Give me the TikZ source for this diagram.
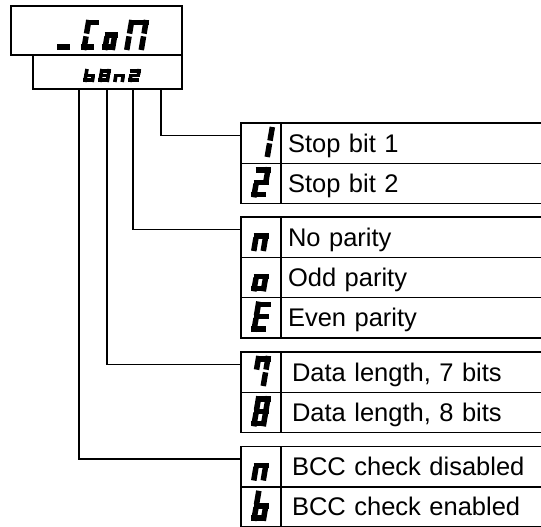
\documentclass[tikz,border=0pt]{standalone}
\usepackage{fontspec}
\setmainfont{Liberation Sans}

% Seven-segment digit: segments a (top), b, c (right), d (bottom), e, f (left), g (middle)
\newcommand\sw{12}\newcommand\sh{30}\newcommand\st{4.5}
\pgfkeys{
  /segs/a/.code={\draw[line width=\st pt] (0,\sh-\st/2) -- (\sw,\sh-\st/2);},
  /segs/d/.code={\draw[line width=\st pt] (0,\st/2) -- (\sw,\st/2);},
  /segs/g/.code={\draw[line width=\st pt] (0,\sh/2) -- (\sw,\sh/2);},
  /segs/f/.code={\draw[line width=\st pt] (\st/2,\sh) -- (\st/2,\sh/2+0.25*\st);},
  /segs/e/.code={\draw[line width=\st pt] (\st/2,\sh/2-0.25*\st) -- (\st/2,0);},
  /segs/b/.code={\draw[line width=\st pt] (\sw-\st/2,\sh) -- (\sw-\st/2,\sh/2+0.25*\st);},
  /segs/c/.code={\draw[line width=\st pt] (\sw-\st/2,\sh/2-0.25*\st) -- (\sw-\st/2,0);},
}
% #1 origin (bottom left), #2 width, #3 height, #4 stroke, #5 segment list
\newcommand\segdigit[5]{%
  \begin{scope}[shift={#1}, xslant=0.17, line cap=butt]
    \renewcommand\sw{#2}\renewcommand\sh{#3}\renewcommand\st{#4}%
    \foreach \s in {#5}{\pgfkeys{/segs/\s}}
  \end{scope}}
% digit placed in an option cell
\newcommand\celldigit[3][0]{\segdigit{([xshift=10pt+#1 pt,yshift=-34pt]#2.north west)}{15}{30}{5.5}{#3}}

\tikzset{
  frame/.style={draw, line width=1.4pt, inner sep=0pt, outer sep=0pt, anchor=north west},
  gcell/.style={frame, minimum width=40pt, minimum height=40.3pt},
  tcell/.style={frame, minimum width=265pt, minimum height=40.3pt,
    font=\fontsize{25.5}{30}\selectfont, text width=#1, align=left,
    text height=18pt, text depth=0pt},
  wire/.style={draw, line width=1.3pt},
}

\begin{document}
\begin{tikzpicture}[x=1pt, y=1pt]
  \useasboundingbox (0,0) rectangle (541,-527);
  \fill[white] (0,0) rectangle (541,-527);
  \clip (0,0) rectangle (541,-527);

  % display and its sub-field
  \node[frame, minimum width=171pt, minimum height=49pt] (disp) at (11,-6) {};
  \node[frame, minimum width=149pt, minimum height=34pt] (sub) at (33,-55) {};

  % "_CoM"
  \segdigit{(57,-50)}{13}{30}{5.5}{d}
  \segdigit{(81,-50)}{13}{30}{5.5}{a,d,e,f}
  \segdigit{(102,-50)}{13}{30}{5.5}{c,d,e,g}
  \segdigit{(124,-50)}{20}{30}{5.5}{a,b,c,e,f}
  % "b8n2"
  \segdigit{(83,-82)}{11}{13}{3.6}{c,d,e,f,g}
  \segdigit{(98,-82)}{11}{13}{3.6}{a,b,c,d,e,f,g}
  \segdigit{(113,-82)}{11}{13}{3.6}{c,e,g}
  \segdigit{(128,-82)}{11}{13}{3.6}{a,b,d,e,g}

  % stop bits
  \node[gcell] (g1a) at (241,-123) {};
  \node[tcell=251pt] (t1a) at (281,-123) {Stop bit 1};
  \node[gcell] (g1b) at (241,-163.3) {};
  \node[tcell=251pt] (t1b) at (281,-163.3) {Stop bit 2};
  \celldigit[4]{g1a}{b,c}
  \celldigit{g1b}{a,b,g,e,d}

  % parity
  \node[gcell] (g2a) at (241,-217) {};
  \node[tcell=251pt] (t2a) at (281,-217) {No parity};
  \node[gcell] (g2b) at (241,-257.3) {};
  \node[tcell=251pt] (t2b) at (281,-257.3) {Odd parity};
  \node[gcell] (g2c) at (241,-297.6) {};
  \node[tcell=251pt] (t2c) at (281,-297.6) {Even parity};
  \celldigit{g2a}{c,e,g}
  \celldigit{g2b}{c,d,e,g}
  \celldigit{g2c}{a,f,g,e,d}

  % data length
  \node[gcell] (g3a) at (241,-352) {};
  \node[tcell=243pt] (t3a) at (281,-352) {Data length, 7 bits};
  \node[gcell] (g3b) at (241,-392.3) {};
  \node[tcell=243pt] (t3b) at (281,-392.3) {Data length, 8 bits};
  \celldigit{g3a}{a,b,c,f}
  \celldigit{g3b}{a,b,c,d,e,f,g}

  % BCC check
  \node[gcell] (g4a) at (241,-446.5) {};
  \node[tcell=243pt] (t4a) at (281,-446.5) {BCC check disabled};
  \node[gcell] (g4b) at (241,-486.8) {};
  \node[tcell=243pt] (t4b) at (281,-486.8) {BCC check enabled};
  \celldigit{g4a}{c,e,g}
  \celldigit{g4b}{f,e,g,c,d}

  % connectors from the sub-field digits to their option groups
  \draw[wire] ([xshift=128pt]sub.south west) |- ([yshift=-12.5pt]g1a.north west);
  \draw[wire] ([xshift=100pt]sub.south west) |- ([yshift=-12.5pt]g2a.north west);
  \draw[wire] ([xshift=74pt]sub.south west) |- ([yshift=-12.5pt]g3a.north west);
  \draw[wire] ([xshift=46pt]sub.south west) |- ([yshift=-12.5pt]g4a.north west);
\end{tikzpicture}
\end{document}
